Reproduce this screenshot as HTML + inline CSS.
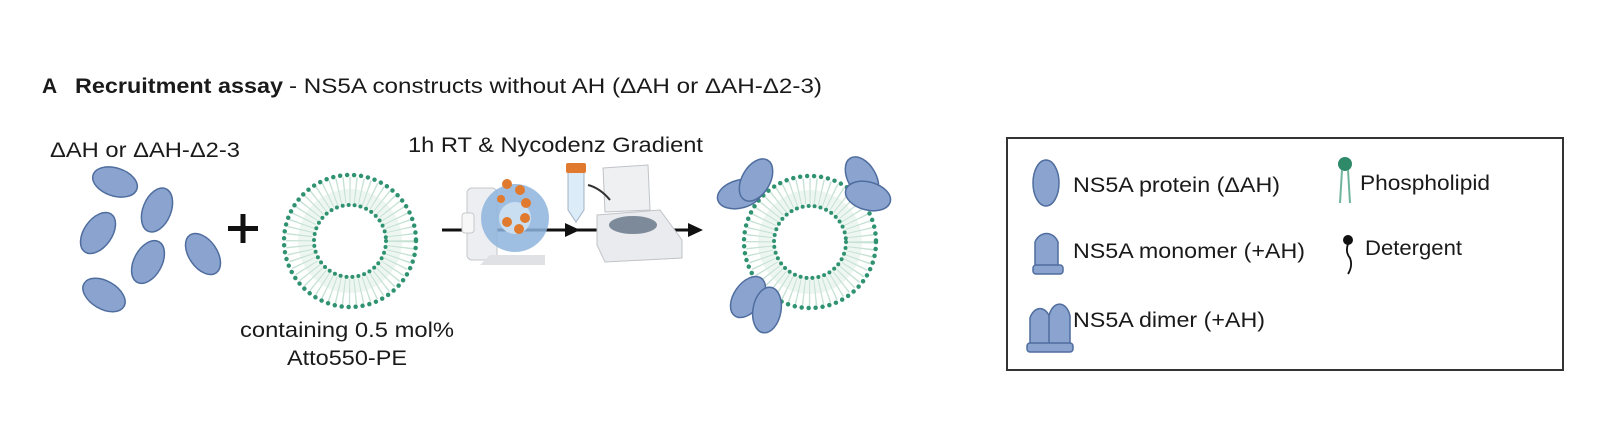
<!DOCTYPE html>
<html><head><meta charset="utf-8"><style>
html,body{margin:0;padding:0;background:#fff;}
svg{display:block;}
text{font-family:"Liberation Sans",sans-serif;fill:#1a1a1a;}
</style></head><body>
<svg width="1600" height="429" viewBox="0 0 1600 429" xmlns="http://www.w3.org/2000/svg">
<defs>
<g id="ves">
  <circle r="52" fill="#eef6f1"/>
  <circle r="51" fill="none" stroke="#c6e2d4" stroke-width="26" stroke-dasharray="1.2 4.5"/>
  <circle r="35" fill="#fff"/>
  <circle r="66" fill="none" stroke="#2f9271" stroke-width="4.5" stroke-linecap="round" stroke-dasharray="0 7"/>
  <circle r="36" fill="none" stroke="#2f9271" stroke-width="4" stroke-linecap="round" stroke-dasharray="0 6"/>
</g>
<ellipse id="p" rx="23" ry="14" fill="#8aa4cf" stroke="#4f6d9e" stroke-width="1.5"/>
</defs>

<text x="42" y="93" font-size="21" font-weight="bold">A</text>
<text x="75" y="93" font-size="21" font-weight="bold" textLength="208" lengthAdjust="spacingAndGlyphs">Recruitment assay</text>
<text x="289" y="93" font-size="21" textLength="533" lengthAdjust="spacingAndGlyphs">- NS5A constructs without AH (ΔAH or ΔAH-Δ2-3)</text>

<text x="50" y="157" font-size="21" textLength="190" lengthAdjust="spacingAndGlyphs">ΔAH or ΔAH-Δ2-3</text>
<use href="#p" transform="translate(115,182) rotate(18)"/>
<use href="#p" transform="translate(157,210) rotate(-68)"/>
<use href="#p" transform="translate(98,233) rotate(-55)"/>
<use href="#p" transform="translate(148,262) rotate(-62)"/>
<use href="#p" transform="translate(203,254) rotate(55)"/>
<use href="#p" transform="translate(104,295) rotate(30)"/>

<path d="M243 214 V243 M228 228.5 H258" stroke="#111" stroke-width="5"/>

<use href="#ves" transform="translate(350,241)"/>
<text x="240" y="337" font-size="21" textLength="214" lengthAdjust="spacingAndGlyphs">containing 0.5 mol%</text>
<text x="287" y="365" font-size="21" textLength="120" lengthAdjust="spacingAndGlyphs">Atto550-PE</text>

<text x="408" y="152" font-size="21" textLength="295" lengthAdjust="spacingAndGlyphs">1h RT &amp; Nycodenz Gradient</text>
<line x1="442" y1="230" x2="690" y2="230" stroke="#111" stroke-width="3"/>
<path d="M565 223 L580 230 L565 237Z M688 223 L703 230 L688 237Z" fill="#111"/>
<!-- rotator -->
<rect x="467" y="188" width="30" height="72" rx="5" fill="#eceef1" stroke="#c5c8cc"/>
<rect x="462" y="213" width="12" height="20" rx="3" fill="#f7f7f7" stroke="#c5c8cc"/>
<path d="M490 255 L545 255 L545 265 L480 265Z" fill="#dfe1e4"/>
<circle cx="515" cy="218" r="34" fill="#8eb4dd" opacity="0.85"/>
<circle cx="515" cy="218" r="16" fill="#c9def0"/>
<g fill="#e07a2e"><circle cx="507" cy="184" r="5"/><circle cx="520" cy="190" r="5"/><circle cx="526" cy="203" r="5"/><circle cx="525" cy="218" r="5"/><circle cx="519" cy="229" r="5"/><circle cx="507" cy="222" r="5"/><circle cx="501" cy="199" r="4"/></g>
<!-- tube -->
<path d="M568 172 H584 V210 L576 222 L568 210Z" fill="#dcecf8" stroke="#9fb3c5"/>
<rect x="566" y="163" width="20" height="10" rx="2" fill="#e07a2e"/>
<!-- centrifuge -->
<path d="M603 168 L648 165 L650 210 L605 212Z" fill="#eef0f2" stroke="#c0c3c7"/>
<path d="M597 215 L660 210 L682 240 L682 258 L605 262 L597 245Z" fill="#e9ebee" stroke="#c0c3c7"/>
<ellipse cx="633" cy="225" rx="24" ry="9" fill="#7d8a99"/>
<path d="M588 185 Q600 188 610 200" stroke="#333" stroke-width="2" fill="none"/>

<!-- result vesicle -->
<use href="#ves" transform="translate(810,242)"/>
<use href="#p" transform="translate(740,194) rotate(-15)"/>
<use href="#p" transform="translate(756,180) rotate(-60)"/>
<use href="#p" transform="translate(862,178) rotate(60)"/>
<use href="#p" transform="translate(868,196) rotate(15)"/>
<use href="#p" transform="translate(748,297) rotate(-55)"/>
<use href="#p" transform="translate(767,310) rotate(-80)"/>

<!-- legend -->
<rect x="1007" y="138" width="556" height="232" fill="#fff" stroke="#333" stroke-width="2"/>
<ellipse cx="1046" cy="183" rx="13" ry="23" fill="#8aa4cf" stroke="#4f6d9e" stroke-width="1.5"/>
<text x="1073" y="192" font-size="21" textLength="207" lengthAdjust="spacingAndGlyphs">NS5A protein (ΔAH)</text>
<path d="M1035 266 V242 A13 16 0 0 1 1058 242 V266Z" fill="#8aa4cf" stroke="#4f6d9e" stroke-width="1.5"/>
<rect x="1033" y="265" width="30" height="9" rx="3" fill="#8aa4cf" stroke="#4f6d9e" stroke-width="1.5"/>
<text x="1073" y="258" font-size="21" textLength="232" lengthAdjust="spacingAndGlyphs">NS5A monomer (+AH)</text>
<path d="M1030 344 V318 A11 16 0 0 1 1050 318 V344Z" fill="#8aa4cf" stroke="#4f6d9e" stroke-width="1.5"/>
<path d="M1049 344 V316 A11 17 0 0 1 1070 316 V344Z" fill="#8aa4cf" stroke="#4f6d9e" stroke-width="1.5"/>
<rect x="1027" y="343" width="46" height="9" rx="3" fill="#8aa4cf" stroke="#4f6d9e" stroke-width="1.5"/>
<text x="1073" y="327" font-size="21" textLength="192" lengthAdjust="spacingAndGlyphs">NS5A dimer (+AH)</text>
<circle cx="1345" cy="164" r="7" fill="#2f8a6a"/>
<path d="M1342 170 L1340 203 M1348 170 L1350 203" stroke="#6fb59c" stroke-width="2"/>
<text x="1360" y="190" font-size="21" textLength="130" lengthAdjust="spacingAndGlyphs">Phospholipid</text>
<circle cx="1348" cy="240" r="5" fill="#111"/>
<path d="M1348 244 Q1345 252 1350 258 Q1353 266 1348 274" stroke="#111" stroke-width="1.8" fill="none"/>
<text x="1365" y="255" font-size="21" textLength="97" lengthAdjust="spacingAndGlyphs">Detergent</text>
</svg>
</body></html>
